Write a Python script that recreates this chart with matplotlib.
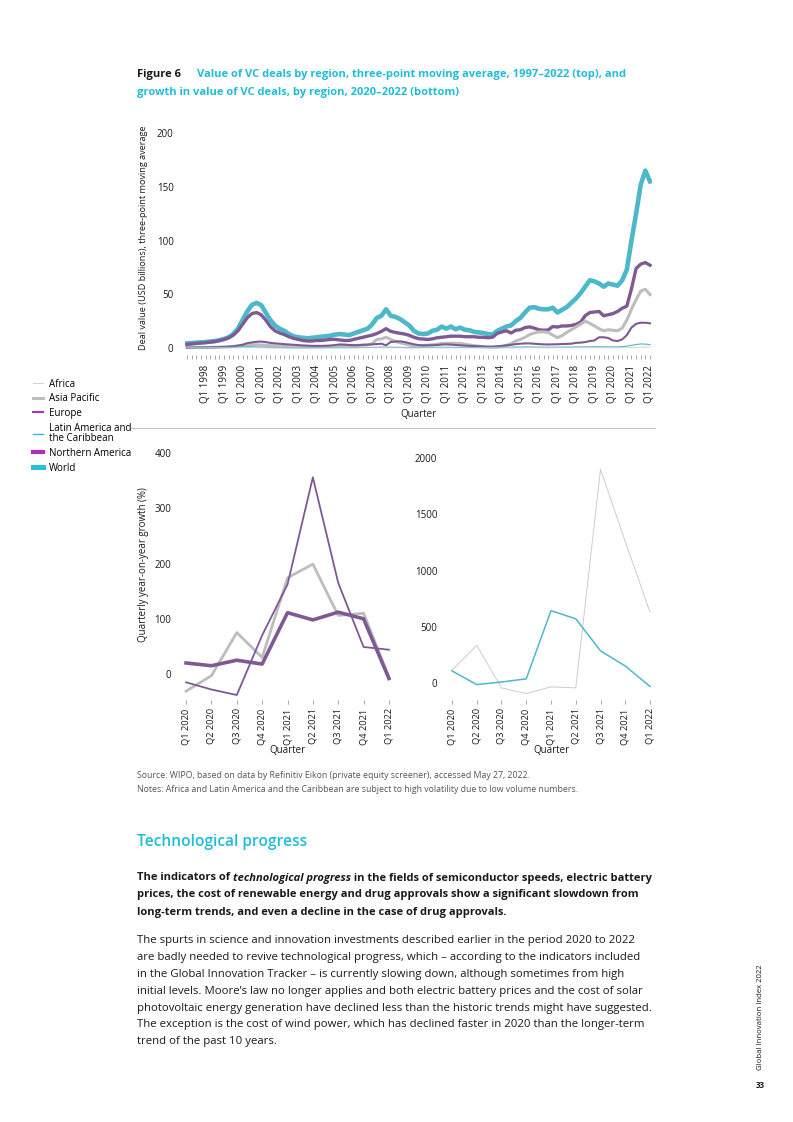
import numpy as np
import matplotlib.pyplot as plt
from matplotlib.lines import Line2D

plt.rcParams['font.family'] = ['Open Sans', 'Noto Sans', 'DejaVu Sans']

W, H = 793, 1122

# ---------------- top chart data: Q1 1997 .. Q1 2022 (three-point moving average, USD bn) ----------------
top_years = list(range(1997, 2023))
top_quarters = [f"Q{q} {y}" for y in top_years for q in range(1, 5)][:101]

world = [
    4.3, 4.6, 5.0, 5.3,  5.6, 6.0, 6.5, 7.2,  8.5, 10, 13, 18,  26, 34, 40, 42,
    40, 33, 26, 21,  18, 16, 13, 11,  10, 9.5, 9, 9.5,  10, 10.5, 11, 11.5,
    12.5, 13, 12.5, 12,  13.5, 15, 16.5, 18,  22, 28, 30, 36,  30, 29, 27, 24,
    21, 16, 13.5, 13,  13.5, 16, 17, 20,  18, 20, 17.5, 19,  17, 16.5, 15, 14.5,
    14, 13, 12.5, 16,  18, 20, 21, 25,  28, 33, 37.5, 38,  36.5, 36, 36, 37.5,
    33, 35.5, 38, 42,  46, 51, 57, 63,  62, 60, 57, 60,  59, 58, 63, 73,
    100, 125, 152, 165,  155]
northern_america = [
    3.4, 3.8, 4.2, 4.6,  5.0, 5.5, 6.0, 7.0,  8.0, 9.5, 12, 16,  22, 28, 32, 33,
    31, 26, 20, 16,  14, 12.5, 10.5, 9,  8, 7, 6.5, 6.5,  7, 7, 7.5, 8,
    8, 7.5, 7, 7,  8, 9, 10, 11,  12, 13.5, 15.5, 18,  15.5, 14.5, 13.7, 13,
    11.8, 10, 8.7, 8.3,  8, 8.5, 9.5, 10,  10.5, 11, 11, 11,  10.5, 10.5, 10.5, 10,
    10, 9.6, 10, 13.5,  15, 16, 14, 16.5,  17, 19, 19.6, 18.5,  17, 16.5, 16.8, 20,
    19.5, 20.5, 20.5, 21,  22, 24, 30, 33,  33.5, 34, 30, 31,  32, 34, 37, 39,
    55, 74, 78, 79.5,  77]
asia_pacific = [
    0.4, 0.4, 0.5, 0.5,  0.5, 0.6, 0.7, 0.8,  1.0, 1.2, 1.5, 2.0,  2.5, 3.0, 3.0, 3.0,
    2.8, 2.5, 2.2, 2.0,  1.7, 1.5, 1.3, 1.2,  1.1, 1.0, 1.0, 1.0,  1.1, 1.2, 1.3, 1.5,
    1.6, 1.8, 2.0, 2.2,  2.3, 2.5, 2.6, 2.8,  4.0, 8.0, 8.5, 10,  8.0, 6.0, 5.0, 3.8,
    2.8, 2.2, 2.0, 2.3,  2.7, 3.0, 3.5, 4.2,  4.3, 4.5, 4.2, 4.3,  3.5, 2.8, 2.2, 1.8,
    1.2, 0.8, 0.6, 0.9,  1.2, 2.5, 4.0, 6.5,  8.0, 10, 12.5, 14,  15, 15, 14.5, 12,
    9.6, 11.5, 14.5, 17,  19.5, 22, 25, 23,  20.5, 18, 16, 17,  16.5, 16, 18.5, 26,
    36, 45, 53, 54.6,  49.7]
europe = [
    0.3, 0.3, 0.4, 0.5,  0.5, 0.6, 0.7, 0.8,  1.0, 1.2, 1.6, 2.2,  3.0, 4.5, 5.2, 5.8,
    6.0, 5.5, 4.8, 4.3,  4.0, 3.6, 3.3, 3.0,  2.7, 2.4, 2.2, 2.0,  2.0, 2.0, 2.1, 2.3,
    2.8, 3.3, 3.2, 2.8,  2.6, 2.7, 3.0, 3.2,  3.4, 3.7, 4.0, 2.5,  5.6, 6.0, 6.2, 5.6,
    4.5, 3.5, 2.7, 2.5,  2.5, 2.6, 2.8, 3.2,  3.4, 3.2, 2.8, 2.5,  2.2, 2.0, 1.8, 1.6,
    1.4, 1.2, 1.3, 1.6,  2.0, 2.5, 3.0, 3.6,  4.0, 4.3, 4.3, 4.0,  3.6, 3.4, 3.3, 3.4,
    3.5, 3.7, 3.8, 4.0,  4.8, 5.0, 5.5, 6.5,  7.0, 10, 10, 9.3,  7.0, 6.5, 8.0, 12,
    19, 22.5, 23.5, 23.5,  23]
latin_america = [
    0.2, 0.2, 0.2, 0.3,  0.3, 0.3, 0.4, 0.4,  0.5, 0.6, 0.8, 1.0,  1.2, 1.3, 1.2, 1.0,
    0.8, 0.6, 0.5, 0.4,  0.3, 0.3, 0.2, 0.2,  0.2, 0.2, 0.2, 0.2,  0.2, 0.2, 0.3, 0.3,
    0.3, 0.3, 0.3, 0.3,  0.4, 0.4, 0.5, 0.5,  0.6, 0.7, 0.8, 0.8,  0.8, 0.7, 0.6, 0.5,
    0.4, 0.4, 0.4, 0.5,  0.6, 0.6, 0.7, 0.7,  0.7, 0.7, 0.6, 0.6,  0.6, 0.6, 0.5, 0.5,
    0.5, 0.5, 0.6, 0.6,  0.7, 0.8, 0.8, 0.9,  0.9, 1.0, 1.0, 0.9,  0.8, 0.7, 0.7, 0.7,
    0.8, 0.8, 0.9, 0.9,  1.0, 1.0, 1.1, 1.1,  1.2, 1.2, 1.1, 1.1,  1.0, 1.1, 1.3, 1.8,
    2.5, 3.2, 3.8, 3.6,  3.2]
africa = [
    0.1, 0.1, 0.1, 0.1,  0.1, 0.1, 0.1, 0.1,  0.1, 0.1, 0.1, 0.2,  0.2, 0.2, 0.2, 0.2,
    0.2, 0.1, 0.1, 0.1,  0.1, 0.1, 0.1, 0.1,  0.1, 0.1, 0.1, 0.1,  0.1, 0.1, 0.1, 0.1,
    0.1, 0.1, 0.1, 0.1,  0.1, 0.1, 0.2, 0.2,  0.2, 0.2, 0.2, 0.2,  0.2, 0.2, 0.2, 0.1,
    0.1, 0.1, 0.1, 0.1,  0.1, 0.1, 0.1, 0.1,  0.1, 0.1, 0.1, 0.1,  0.1, 0.1, 0.1, 0.1,
    0.1, 0.1, 0.1, 0.1,  0.1, 0.1, 0.1, 0.1,  0.2, 0.2, 0.2, 0.2,  0.2, 0.2, 0.2, 0.2,
    0.2, 0.2, 0.2, 0.2,  0.2, 0.2, 0.2, 0.2,  0.2, 0.2, 0.2, 0.2,  0.2, 0.2, 0.2, 0.3,
    0.4, 0.6, 0.8, 1.0,  1.0]

# ---------------- bottom chart data: quarterly year-on-year growth (%) ----------------
bottom_quarters = ["Q1 2020", "Q2 2020", "Q3 2020", "Q4 2020",
                   "Q1 2021", "Q2 2021", "Q3 2021", "Q4 2021", "Q1 2022"]
growth_na = [20, 15, 25, 18, 111, 98, 112, 100, -8]
growth_ap = [-31, -3, 75, 30, 174, 199, 106, 110, -6]
growth_eu = [-15, -28, -38, 70, 162, 356, 165, 49, 44]
growth_af = [114, 334, -43, -94, -34, -43, 1900, 1257, 629]
growth_lac = [108, -14, 9, 37, 643, 571, 286, 151, -31]

# colours
CYAN = '#4db8c9'
PURPLE = '#7d5a93'
GRAY = '#bdbdbd'
LIGHTGRAY = '#cccccc'
TITLE_CYAN = '#1fbdd6'
TEXT = '#1a1a1a'
TICK = '#999999'


def fx(px):
    return px / W


def fy(py):
    return 1 - py / H


fig = plt.figure(figsize=(W / 100, H / 100), dpi=100)

# ---------------------- top chart ----------------------
ax = fig.add_axes([fx(184.7), fy(355), fx(652.3) - fx(184.7), fy(133) - fy(355)])
xs = np.arange(len(top_quarters))
ax.plot(xs, world, color=CYAN, lw=3.3, zorder=2)
ax.plot(xs, northern_america, color=PURPLE, lw=2.4, zorder=3)
ax.plot(xs, asia_pacific, color=GRAY, lw=2.2, zorder=3)
ax.plot(xs, europe, color=PURPLE, lw=1.5, zorder=4)
ax.plot(xs, latin_america, color=CYAN, lw=0.8, zorder=5)
ax.plot(xs, africa, color=LIGHTGRAY, lw=0.6, zorder=5)
ax.set_xlim(-0.5, 100.5)
ax.set_ylim(-6.5, 200)
ax.set_yticks([0, 50, 100, 150, 200])
ax.set_xticks(xs, minor=True)
major = [i for i, q in enumerate(top_quarters) if q.startswith("Q1") and i >= 4]
ax.set_xticks(major)
ax.set_xticklabels([top_quarters[i] for i in major], rotation=90)
ax.tick_params(axis='y', length=0, pad=8, labelsize=7, labelcolor=TEXT)
ax.tick_params(axis='x', which='both', length=3, width=0.6, color=TICK, pad=4,
               labelsize=7, labelcolor=TEXT)
for s in ax.spines.values():
    s.set_visible(False)
ax.set_ylabel("Deal value (USD billions), three-point moving average", fontsize=6.6,
              color=TEXT)
ax.yaxis.set_label_coords(-0.079, 0.527)
ax.set_xlabel("Quarter", fontsize=7, color=TEXT, labelpad=4)

# separator line
fig.add_artist(Line2D([fx(130), fx(655)], [fy(428), fy(428)], color='#c4c4c4', lw=0.8))

# ---------------------- bottom left ----------------------
bx = np.arange(len(bottom_quarters))
ax1 = fig.add_axes([fx(181), fy(700), fx(394) - fx(181), fy(447.5) - fy(700)])
ax1.plot(bx, growth_ap, color=GRAY, lw=2.0, zorder=2)
ax1.plot(bx, growth_eu, color=PURPLE, lw=1.3, zorder=3)
ax1.plot(bx, growth_na, color=PURPLE, lw=2.6, zorder=4)
ax1.set_xlim(-0.2, 8.2)
ax1.set_ylim(-47, 410)
ax1.set_yticks([0, 100, 200, 300, 400])
ax1.set_ylabel("Quarterly year-on-year growth (%)", fontsize=7, color=TEXT)
ax1.yaxis.set_label_coords(-0.15, 0.535)

# ---------------------- bottom right ----------------------
ax2 = fig.add_axes([fx(447), fy(700), fx(655) - fx(447), fy(452.4) - fy(700)])
ax2.plot(bx, growth_af, color=LIGHTGRAY, lw=0.7, zorder=2)
ax2.plot(bx, growth_lac, color=CYAN, lw=1.1, zorder=3)
ax2.set_xlim(-0.2, 8.2)
ax2.set_ylim(-151, 2050)
ax2.set_yticks([0, 500, 1000, 1500, 2000])

for a in (ax1, ax2):
    a.set_xticks(bx)
    a.set_xticklabels(bottom_quarters, rotation=90)
    a.tick_params(axis='y', length=0, pad=7, labelsize=7, labelcolor=TEXT)
    a.tick_params(axis='x', length=3, width=0.6, color=TICK, pad=3, labelsize=6.7,
                  labelcolor=TEXT)
    for s in a.spines.values():
        s.set_visible(False)
    a.set_xlabel("Quarter", fontsize=7, color=TEXT, labelpad=0)

# ---------------------- legend ----------------------
handles = [
    Line2D([], [], color='#cfcfcf', lw=0.7),
    Line2D([], [], color='#bdbdbd', lw=2.2),
    Line2D([], [], color='#b22cc0', lw=1.5),
    Line2D([], [], color='#27c0d6', lw=1.0),
    Line2D([], [], color='#b22cc0', lw=3.0),
    Line2D([], [], color='#27c0d6', lw=3.6),
]
labels = ["Africa", "Asia Pacific", "Europe", "Latin America and\nthe Caribbean",
          "Northern America", "World"]
leg = fig.legend(handles, labels, loc='upper left', bbox_to_anchor=(fx(33), fy(378.5)),
                 frameon=False, fontsize=7, handlelength=1.05, handletextpad=0.6,
                 labelspacing=0.38, borderaxespad=0, borderpad=0)
for t in leg.get_texts():
    t.set_linespacing(0.95)

# ---------------------- title ----------------------
fig.text(fx(137), fy(75), "Figure 6", fontsize=8, fontweight='bold', color=TEXT, va='center')
fig.text(fx(197), fy(75),
         "Value of VC deals by region, three-point moving average, 1997\u20132022 (top), and",
         fontsize=8, fontweight='bold', color=TITLE_CYAN, va='center')
fig.text(fx(137), fy(92), "growth in value of VC deals, by region, 2020\u20132022 (bottom)",
         fontsize=8, fontweight='bold', color=TITLE_CYAN, va='center')

# ---------------------- notes and body text ----------------------
fig.text(fx(137), fy(775), "Source: WIPO, based on data by Refinitiv Eikon (private equity "
         "screener), accessed May 27, 2022.", fontsize=6.3, color='#555555', va='center')
fig.text(fx(137), fy(789), "Notes: Africa and Latin America and the Caribbean are subject to "
         "high volatility due to low volume numbers.", fontsize=6.3, color='#555555', va='center')

fig.text(fx(137), fy(842), "Technological progress", fontsize=11.2, color=TITLE_CYAN,
         fontweight='semibold', va='center')

renderer = fig.canvas.get_renderer()
t1 = fig.text(fx(137), fy(878), "The indicators of ", fontsize=8, fontweight='bold',
              color=TEXT, va='center')
e1 = t1.get_window_extent(renderer)
t2 = fig.text(e1.x1 / fig.bbox.width, fy(878), "technological progress", fontsize=8,
              fontweight='bold', fontstyle='italic', color=TEXT, va='center')
e2 = t2.get_window_extent(renderer)
fig.text(e2.x1 / fig.bbox.width, fy(878), " in the fields of semiconductor speeds, electric battery",
         fontsize=8, fontweight='bold', color=TEXT, va='center')
fig.text(fx(137), fy(895), "prices, the cost of renewable energy and drug approvals show a "
         "significant slowdown from", fontsize=8, fontweight='bold', color=TEXT, va='center')
fig.text(fx(137), fy(912), "long-term trends, and even a decline in the case of drug approvals.",
         fontsize=8, fontweight='bold', color=TEXT, va='center')

body = [
    "The spurts in science and innovation investments described earlier in the period 2020 to 2022",
    "are badly needed to revive technological progress, which \u2013 according to the indicators included",
    "in the Global Innovation Tracker \u2013 is currently slowing down, although sometimes from high",
    "initial levels. Moore\u2019s law no longer applies and both electric battery prices and the cost of solar",
    "photovoltaic energy generation have declined less than the historic trends might have suggested.",
    "The exception is the cost of wind power, which has declined faster in 2020 than the longer-term",
    "trend of the past 10 years.",
]
for k, line in enumerate(body):
    fig.text(fx(137), fy(941 + k * 16.8), line, fontsize=8.2, color=TEXT, va='center')

fig.text(fx(760), fy(1017), "Global Innovation Index 2022", fontsize=5.6, color=TEXT,
         rotation=90, ha='center', va='center')
fig.text(fx(760), fy(1085), "33", fontsize=5.8, fontweight='bold', color=TEXT,
         ha='center', va='center')

fig.savefig("out.png", dpi=100)
